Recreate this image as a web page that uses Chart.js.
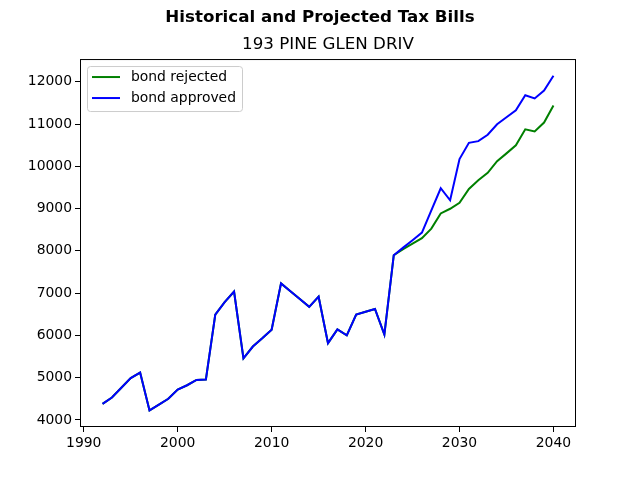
<!DOCTYPE html>
<html>
<head>
<meta charset="utf-8">
<script src="https://cdn.jsdelivr.net/npm/chart.js@4.4.1/dist/chart.umd.min.js"></script>
<style>
  html, body { margin: 0; padding: 0; background: #fff; }
  #wrap { width: 640px; height: 480px; }
</style>
</head>
<body>
<div id="wrap"><canvas id="tax-chart" width="640" height="480"></canvas></div>
<script>
// data
const years = [1992,1993,1994,1995,1996,1997,1998,1999,2000,2001,2002,2003,2004,2005,2006,2007,2008,2009,2010,
  2011,2012,2013,2014,2015,2016,2017,2018,2019,2020,2021,2022,2023,2024,2025,2026,2027,2028,2029,2030,
  2031,2032,2033,2034,2035,2036,2037,2038,2039,2040];
const bondRejected = [4380,4530,4760,4990,5120,4225,4360,4500,4720,4820,4945,4955,6490,6785,7035,5455,5735,5930,6135,
  7230,7045,6860,6675,6915,5815,6140,6000,6490,6560,6625,6020,7895,8040,8170,8300,8525,8885,8995,9135,
  9465,9670,9845,10120,10305,10495,10875,10825,11035,11440];
const bondApproved = [4380,4530,4760,4990,5120,4225,4360,4500,4720,4820,4945,4955,6490,6785,7035,5455,5735,5930,6135,
  7230,7045,6860,6675,6915,5815,6140,6000,6490,6560,6625,6020,7895,8075,8250,8430,8955,9480,9195,10170,
  10555,10595,10745,10995,11160,11325,11680,11605,11790,12140];
const xTicks = [1990,2000,2010,2020,2030,2040];
const yTicks = [4000,5000,6000,7000,8000,9000,10000,11000,12000];

const FONT = "'DejaVu Sans', sans-serif";

function toPoints(vals){
    return years.map((y,i) => ({x: y, y: vals[i]}));
}

// matplotlib style frame, axes title + legend inside the axes
const framePlugin = {
    id: 'frame',
    afterDatasetsDraw(chart){
        const {ctx, chartArea: a} = chart;
        ctx.save();
        ctx.strokeStyle = '#000';
        ctx.lineWidth = 1;
        ctx.strokeRect(a.left + 0.5, a.top + 0.5, a.right - a.left - 1, a.bottom - a.top - 1);

        // axes title, centred over the plot area
        ctx.fillStyle = '#000';
        ctx.font = "16.7px " + FONT;
        ctx.textAlign = 'center';
        ctx.textBaseline = 'middle';
        ctx.fillText('193 PINE GLEN DRIV', (a.left + a.right) / 2, a.top - 14);

        // legend box
        const bx = a.left + 7.5, by = a.top + 7.5, bw = 155, bh = 45;
        ctx.fillStyle = 'rgba(255,255,255,0.8)';
        ctx.strokeStyle = '#cccccc';
        ctx.beginPath();
        ctx.roundRect(bx, by, bw, bh, 3);
        ctx.fill();
        ctx.stroke();

        ctx.font = "13.9px " + FONT;
        ctx.textAlign = 'left';
        chart.data.datasets.forEach((ds, i) => {
            const ly = a.top + 18 + i * 21;
            ctx.strokeStyle = ds.borderColor;
            ctx.lineWidth = 2;
            ctx.beginPath();
            ctx.moveTo(a.left + 12, ly);
            ctx.lineTo(a.left + 40, ly);
            ctx.stroke();
            ctx.fillStyle = '#000';
            ctx.fillText(ds.label, a.left + 51, ly);
        });
        ctx.restore();
    }
};

new Chart(document.getElementById('tax-chart'), {
    type: 'line',
    data: {
        datasets: [
            {
                label: 'bond rejected',
                data: toPoints(bondRejected),
                borderColor: '#008000',
                borderWidth: 2,
                pointRadius: 0,
                tension: 0,
                fill: false,
                order: 2
            },
            {
                label: 'bond approved',
                data: toPoints(bondApproved),
                borderColor: '#0000ff',
                borderWidth: 2,
                pointRadius: 0,
                tension: 0,
                fill: false,
                order: 1
            }
        ]
    },
    options: {
        responsive: false,
        animation: false,
        devicePixelRatio: 1,
        layout: { padding: 0 },
        plugins: {
            legend: { display: false },
            tooltip: { enabled: false },
            title: {
                display: true,
                text: 'Historical and Projected Tax Bills',
                color: '#000',
                font: { family: FONT, size: 16.7, weight: 'bold', lineHeight: 1.2 },
                padding: { top: 8, bottom: 31 }
            }
        },
        scales: {
            x: {
                type: 'linear',
                min: 1989.6,
                max: 2042.4,
                afterBuildTicks: s => { s.ticks = xTicks.map(v => ({value: v})); },
                afterFit: s => { s.height = 53; },
                grid: { display: true, drawOnChartArea: false, drawTicks: true, tickLength: 5, color: '#000' },
                border: { display: false },
                ticks: { color: '#000', padding: 3, maxRotation: 0, font: { family: FONT, size: 13.9 },
                         callback: v => String(v) }
            },
            y: {
                type: 'linear',
                min: 3832,
                max: 12537,
                afterBuildTicks: s => { s.ticks = yTicks.map(v => ({value: v})); },
                afterFit: s => { s.width = 80; },
                grid: { display: true, drawOnChartArea: false, drawTicks: true, tickLength: 5, color: '#000' },
                border: { display: false },
                ticks: { color: '#000', padding: 3, font: { family: FONT, size: 13.9 },
                         callback: v => String(v) }
            },
            // empty right margin so the figure title centres on the whole canvas
            yPad: {
                position: 'right',
                display: true,
                afterFit: s => { s.width = 64; },
                grid: { display: false },
                border: { display: false },
                ticks: { display: false }
            }
        }
    },
    plugins: [framePlugin]
});
</script>
</body>
</html>
